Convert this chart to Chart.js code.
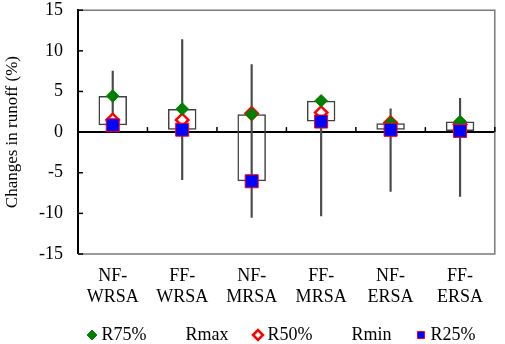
<!DOCTYPE html>
<html><head><meta charset="utf-8">
<script src="https://cdn.jsdelivr.net/npm/chart.js@4"></script>
<style>html,body{margin:0;padding:0;background:#fff}canvas{display:block}</style>
</head><body>
<canvas id="c" width="505" height="344"></canvas>
<script>
// ---- data ----
const categories = [["NF-","WRSA"],["FF-","WRSA"],["NF-","MRSA"],["FF-","MRSA"],["NF-","ERSA"],["FF-","ERSA"]];
const rMax = [7.5, 11.4, 8.3, 3.8, 2.85, 4.15];
const rMin = [0.8, -5.85, -10.5, -10.3, -7.3, -7.9];
const r75  = [4.45, 2.84, 2.2, 3.85, 1.1, 1.3];
const r50  = [1.5, 1.5, 2.3, 2.4, 1.15, 0.95];
const r25  = [0.85, 0.3, -6.05, 1.3, 0.28, 0.15];
const yTicks = [-15, -10, -5, 0, 5, 10, 15];
const legendNames = ["R75%", "Rmax", "R50%", "Rmin", "R25%"];

const FONT = "'Liberation Serif', 'Times New Roman', serif";

const framePlugin = {
  id: 'frame',
  beforeDatasetsDraw(chart) {
    const {ctx, chartArea: a, scales: {x, y}} = chart;
    ctx.save();
    ctx.strokeStyle = '#7a7a7a';
    ctx.lineWidth = 1.5;
    ctx.beginPath();
    ctx.moveTo(a.left, a.top); ctx.lineTo(a.right, a.top);
    ctx.lineTo(a.right, a.bottom); ctx.lineTo(a.left, a.bottom);
    ctx.stroke();
    ctx.strokeStyle = '#000';
    ctx.lineWidth = 1.5;
    yTicks.forEach(v => {
      const py = y.getPixelForValue(v);
      ctx.beginPath(); ctx.moveTo(a.left, py); ctx.lineTo(a.left + 5, py); ctx.stroke();
    });
    const y0 = y.getPixelForValue(0);
    const n = categories.length;
    const step = x.getPixelForValue(1) - x.getPixelForValue(0);
    for (let i = 0; i < n; i++) {
      const px = x.getPixelForValue(i) + step / 2;
      ctx.beginPath(); ctx.moveTo(px, y0); ctx.lineTo(px, y0 - 5); ctx.stroke();
    }
    ctx.restore();
  }
};

const layoutTweak = {
  id: 'layoutTweak',
  afterLayout(chart) {
    const l = chart.legend;
    l.left += 33; l.right += 33;
    l.top += 10; l.bottom += 10;
    const x = chart.scales.x;
    x.bottom = x.top + 62;
  }
};

const legendStyles = [
  {pointStyle: 'rectRot', fillStyle: '#008000', strokeStyle: '#008000', lineWidth: 1},
  {pointStyle: 'rect', fillStyle: 'rgba(0,0,0,0)', strokeStyle: 'rgba(0,0,0,0)', lineWidth: 0},
  {pointStyle: 'rectRot', fillStyle: '#ffffff', strokeStyle: '#ff0000', lineWidth: 2.5},
  {pointStyle: 'rect', fillStyle: 'rgba(0,0,0,0)', strokeStyle: 'rgba(0,0,0,0)', lineWidth: 0},
  {pointStyle: 'rect', fillStyle: '#0000ff', strokeStyle: '#ff0000', lineWidth: 1}
];

new Chart(document.getElementById('c'), {
  type: 'bar',
  data: {
    labels: categories,
    datasets: [
      {
        type: 'line', label: 'R25%', data: r25, showLine: false, order: 0,
        pointStyle: 'rect', pointRadius: 9.2, pointBackgroundColor: '#0000ff',
        pointBorderColor: '#ff0000', pointBorderWidth: 1
      },
      {
        type: 'line', label: 'R75%', data: r75, showLine: false, order: 1,
        pointStyle: 'rectRot', pointRadius: 6.3, pointBackgroundColor: '#008000',
        pointBorderColor: '#008000', pointBorderWidth: 1
      },
      {
        type: 'line', label: 'R50%', data: r50, showLine: false, order: 2,
        pointStyle: 'rectRot', pointRadius: 6.2, pointBackgroundColor: '#ffffff',
        pointBorderColor: '#ff0000', pointBorderWidth: 2.5
      },
      {
        label: 'box', data: r25.map((v, i) => [v, r75[i]]), order: 3, grouped: false,
        backgroundColor: 'rgba(0,0,0,0)', borderColor: '#404040', borderWidth: 1.5,
        borderSkipped: false, barPercentage: 0.41, categoryPercentage: 1
      },
      {
        label: 'range', data: rMin.map((v, i) => [v, rMax[i]]), order: 4, grouped: false,
        backgroundColor: '#4a4a4a', borderWidth: 0, barThickness: 1.5
      }
    ]
  },
  options: {
    responsive: false,
    animation: false,
    events: [],
    layout: {padding: {top: 9, right: 4, left: 0, bottom: 0}},
    scales: {
      x: {
        grid: {display: false, drawTicks: false},
        border: {display: false},
        ticks: {color: '#000', padding: 11, font: {family: FONT, size: 18}, maxRotation: 0, autoSkip: false},
        afterFit(s) { s.height = 33; }
      },
      y: {
        min: -15, max: 15,
        afterBuildTicks(s) { s.ticks = yTicks.map(v => ({value: v})); },
        grid: {
          drawTicks: false,
          color: c => (c.tick && c.tick.value === 0) ? '#000' : 'rgba(0,0,0,0)',
          lineWidth: c => (c.tick && c.tick.value === 0) ? 2 : 0
        },
        border: {display: true, color: '#000', width: 2},
        ticks: {color: '#000', padding: 15, font: {family: FONT, size: 18}},
        title: {display: true, text: 'Changes in runoff (%)', color: '#000',
                font: {family: FONT, size: 17}, padding: {top: 2, bottom: 2}},
        afterFit(s) { s.width = 78; s.paddingTop = 0; s.paddingBottom = 0; }
      }
    },
    plugins: {
      tooltip: {enabled: false},
      legend: {
        position: 'bottom',
        labels: {
          usePointStyle: true, boxWidth: 1, boxHeight: 7, padding: 29,
          color: '#000', font: {family: FONT, size: 18},
          generateLabels: () => legendNames.map((t, i) => Object.assign({
            text: t, hidden: false, datasetIndex: 0, fontColor: '#000'
          }, legendStyles[i]))
        }
      }
    }
  },
  plugins: [framePlugin, layoutTweak]
});
</script>
</body></html>
